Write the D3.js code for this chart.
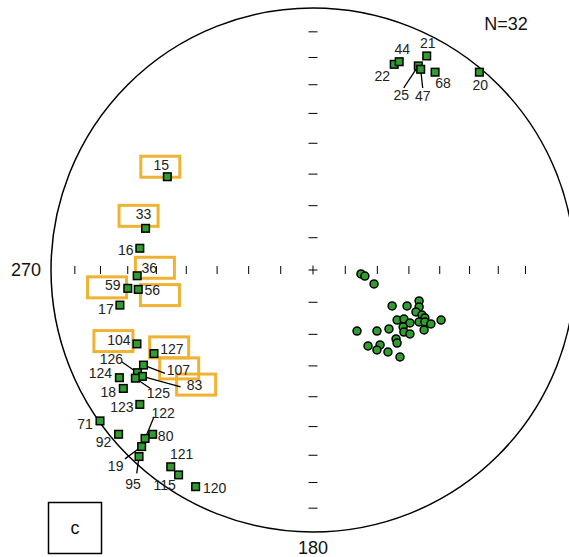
<!DOCTYPE html>
<html>
<head>
<meta charset="utf-8">
<script src="https://cdn.jsdelivr.net/npm/d3@7"></script>
<style>
  html, body { margin: 0; padding: 0; background: #fff; }
  svg { display: block; }
  text { font-family: Arial, "Liberation Sans", sans-serif; }
</style>
</head>
<body>
<svg id="chart" width="569" height="557"></svg>
<script>
// ---- Data (equal-area projected coordinates on the unit net: x = east, y = north) ----
const squareIds = [22, 44, 21, 25, 47, 68, 20,
                   15, 33, 16, 36, 59, 56, 17,
                   104, 127, 107, 126, 83, 125, 124, 18, 123, 71, 92, 80, 122, 19, 95, 121, 115, 120];
const squareX = [0.310, 0.329, 0.434, 0.402, 0.411, 0.466, 0.635,
                 -0.556, -0.639, -0.661, -0.671, -0.707, -0.667, -0.737,
                 -0.672, -0.607, -0.647, -0.670, -0.651, -0.678, -0.739, -0.724, -0.661, -0.813, -0.742, -0.612, -0.641, -0.654, -0.664, -0.543, -0.513, -0.448];
const squareY = [0.785, 0.795, 0.817, 0.779, 0.766, 0.755, 0.755,
                 0.356, 0.159, 0.083, -0.022, -0.070, -0.074, -0.134,
                 -0.282, -0.319, -0.363, -0.392, -0.406, -0.413, -0.411, -0.452, -0.513, -0.576, -0.627, -0.627, -0.643, -0.674, -0.712, -0.751, -0.782, -0.827];
const highlightedIds = [15, 33, 36, 59, 56, 104, 127, 107, 83];

const circleX = [0.183, 0.198, 0.233, 0.405, 0.302, 0.359, 0.405, 0.393, 0.416, 0.427,
                 0.321, 0.347, 0.405, 0.427, 0.370, 0.450, 0.489, 0.344, 0.424, 0.168,
                 0.244, 0.290, 0.347, 0.370, 0.317, 0.321, 0.210, 0.256, 0.244, 0.286, 0.332];
const circleY = [-0.015, -0.023, -0.053, -0.118, -0.137, -0.137, -0.141, -0.160, -0.172, -0.183,
                 -0.191, -0.187, -0.198, -0.198, -0.202, -0.206, -0.191, -0.218, -0.229, -0.233,
                 -0.233, -0.225, -0.237, -0.244, -0.263, -0.279, -0.290, -0.286, -0.305, -0.313, -0.332];

const tickAnglesLeft  = [10, 20, 30, 40, 50, 60, 70, 80];
const tickAnglesRight = [10, 20, 30, 40, 50, 60, 70];
const tickAnglesUp    = [10, 20, 30, 40, 50, 60, 70, 80];
const tickAnglesDown  = [10, 20, 30, 40, 50, 60, 70, 80];

const countLabel = "N=32";
const westLabel = "270";
const southLabel = "180";
const panelLabel = "c";

// ---- Layout (label placement, in px relative to each point) ----
const labelOffset = {
  22: [-12, 12], 44: [3, -13], 21: [1, -13], 25: [-17, 29], 47: [2, 27], 68: [8, 11], 20: [1, 13],
  15: [-6, -12], 33: [-2, -14], 16: [-14, 2], 36: [12, -8], 59: [-15, -3], 56: [14, 1], 17: [-14, 4],
  104: [-18, -4], 127: [18, -5], 107: [35, 5], 126: [-26, -14], 83: [52, 9], 125: [23, 15],
  124: [-19, -5], 18: [-15, 4], 123: [-18, 3], 71: [-15, 3], 92: [-15, 8], 80: [13, 2],
  122: [18, -26], 19: [-26, 19], 95: [-6, 27], 121: [11, -13], 115: [-14, 10], 120: [19, 1]
};
const boxOffset = {
  15: [-7, -10], 33: [-7, -12.5], 36: [17.7, -8], 59: [-20.7, -1], 56: [21.7, 5.7],
  104: [-23.5, -2.8], 127: [15.2, -6.2], 107: [35.7, 3.3], 83: [53.7, 8.2]
};
const leaderEnd = {
  25: [-14.6, 22], 47: [2, 18.7], 107: [21.5, 8.3], 83: [38.2, 10.4], 126: [-15.8, -11],
  125: [14.7, 10], 122: [9, -21.8], 19: [-16.7, 12.3], 95: [-2.3, 16.8]
};

// ---- Drawing ----
const svg = d3.select("#chart");
const cx = 313, cy = 270, R = 262;
const x = d3.scaleLinear().domain([-1, 1]).range([cx - R, cx + R]);
const y = d3.scaleLinear().domain([-1, 1]).range([cy + R, cy - R]);
// equal-area radius for angular distance from centre
const ea = a => Math.SQRT2 * Math.sin((a * Math.PI / 180) / 2);

svg.append("circle").attr("cx", x(0)).attr("cy", y(0)).attr("r", x(1) - x(0))
  .attr("fill", "none").attr("stroke", "#000").attr("stroke-width", 1.5);

const tickG = svg.append("g").attr("stroke", "#000").attr("stroke-width", 1);
tickAnglesLeft.forEach(a => tickG.append("line").attr("x1", x(-ea(a))).attr("x2", x(-ea(a))).attr("y1", y(0) - 4).attr("y2", y(0) + 4));
tickAnglesRight.forEach(a => tickG.append("line").attr("x1", x(ea(a))).attr("x2", x(ea(a))).attr("y1", y(0) - 4).attr("y2", y(0) + 4));
tickAnglesUp.forEach(a => tickG.append("line").attr("x1", x(0) - 4.5).attr("x2", x(0) + 4.5).attr("y1", y(ea(a))).attr("y2", y(ea(a))));
tickAnglesDown.forEach(a => tickG.append("line").attr("x1", x(0) - 4.5).attr("x2", x(0) + 4.5).attr("y1", y(-ea(a))).attr("y2", y(-ea(a))));
tickG.append("line").attr("x1", x(0) - 4.5).attr("x2", x(0) + 4.5).attr("y1", y(0)).attr("y2", y(0));
tickG.append("line").attr("x1", x(0)).attr("x2", x(0)).attr("y1", y(0) - 4.5).attr("y2", y(0) + 4.5);

const squares = squareIds.map((id, i) => ({ id, px: x(squareX[i]), py: y(squareY[i]) }));
const circles = circleX.map((v, i) => ({ px: x(v), py: y(circleY[i]) }));

// highlight boxes
svg.append("g").selectAll("rect")
  .data(squares.filter(d => highlightedIds.includes(d.id)))
  .join("rect")
  .attr("x", d => d.px + boxOffset[d.id][0] - 19.5)
  .attr("y", d => d.py + boxOffset[d.id][1] - 10.5)
  .attr("width", 39).attr("height", 21)
  .attr("fill", "none").attr("stroke", "#f0b232").attr("stroke-width", 3);

// leader lines
svg.append("g").selectAll("line")
  .data(squares.filter(d => leaderEnd[d.id]))
  .join("line")
  .attr("x1", d => d.px).attr("y1", d => d.py)
  .attr("x2", d => d.px + leaderEnd[d.id][0]).attr("y2", d => d.py + leaderEnd[d.id][1])
  .attr("stroke", "#000").attr("stroke-width", 1.3);

// circles
svg.append("g").selectAll("circle")
  .data(circles).join("circle")
  .attr("cx", d => d.px).attr("cy", d => d.py).attr("r", 4)
  .attr("fill", "#2f9e2f").attr("stroke", "#000").attr("stroke-width", 1.5);

// squares
svg.append("g").selectAll("rect")
  .data(squares).join("rect")
  .attr("x", d => d.px - 3.8).attr("y", d => d.py - 3.8)
  .attr("width", 7.6).attr("height", 7.6)
  .attr("fill", "#2f9e2f").attr("stroke", "#000").attr("stroke-width", 1.5);

// labels
svg.append("g").selectAll("text")
  .data(squares).join("text")
  .attr("x", d => d.px + labelOffset[d.id][0])
  .attr("y", d => d.py + labelOffset[d.id][1])
  .attr("dy", "0.36em")
  .attr("text-anchor", "middle")
  .attr("font-size", 14).attr("fill", "#222")
  .text(d => d.id);

svg.append("text").attr("x", 506).attr("y", 24).attr("dy", "0.36em").attr("text-anchor", "middle")
  .attr("font-size", 18).attr("fill", "#111").text(countLabel);
svg.append("text").attr("x", 26).attr("y", 270).attr("dy", "0.36em").attr("text-anchor", "middle")
  .attr("font-size", 18).attr("fill", "#111").text(westLabel);
svg.append("text").attr("x", 313).attr("y", 548).attr("dy", "0.36em").attr("text-anchor", "middle")
  .attr("font-size", 18).attr("fill", "#111").text(southLabel);

svg.append("rect").attr("x", 48.5).attr("y", 502.5).attr("width", 53).attr("height", 51)
  .attr("fill", "none").attr("stroke", "#000").attr("stroke-width", 1.5);
svg.append("text").attr("x", 75).attr("y", 528).attr("dy", "0.36em").attr("text-anchor", "middle")
  .attr("font-size", 18).attr("fill", "#111").text(panelLabel);
</script>
</body>
</html>
